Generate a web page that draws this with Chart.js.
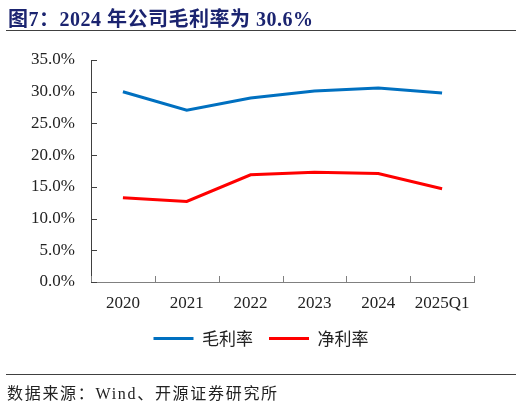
<!DOCTYPE html>
<html>
<head>
<meta charset="utf-8">
<script src="https://cdn.jsdelivr.net/npm/chart.js@4/dist/chart.umd.min.js"></script>
<style>
  body { margin: 0; background: #fff; }
  #wrap { position: relative; width: 522px; height: 405px; overflow: hidden; }
  #title {
    position: absolute; left: 8px; top: 3px; white-space: nowrap;
    font: bold 20px "Liberation Serif", "Noto Sans CJK SC", serif;
    color: #1b2470; letter-spacing: 0.5px;
  }
  .rule { position: absolute; left: 6px; width: 510px; height: 0; border-top: 1.5px solid #404040; }
  #source {
    position: absolute; left: 7px; top: 380px; white-space: nowrap;
    font: 16px "Liberation Serif", "Noto Sans CJK SC", serif;
    color: #222; letter-spacing: 1.7px;
  }
  canvas { position: absolute; left: 0; top: 0; }
</style>
</head>
<body>
<div id="wrap">
  <canvas id="chart" width="522" height="405"></canvas>
  <div id="title">图7：2024 年公司毛利率为 30.6%</div>
  <div class="rule" style="top:30px"></div>
  <div class="rule" style="top:374px"></div>
  <div id="source">数据来源：Wind、开源证券研究所</div>
</div>
<script>
// data
const years = ["2020", "2021", "2022", "2023", "2024", "2025Q1"];
const grossMargin = [30.0, 27.1, 29.0, 30.1, 30.6, 29.8];
const netMargin = [13.3, 12.7, 16.9, 17.3, 17.1, 14.7];
const yMin = 0, yMax = 35, yStep = 5;

Chart.defaults.font.family = '"Liberation Serif", "Times New Roman", serif';
Chart.defaults.font.size = 17;
Chart.defaults.color = "#222";

// tick marks point into the plot, so draw them ourselves
const inwardTicks = {
  id: "inwardTicks",
  afterDraw(chart) {
    const { ctx, scales: { x, y } } = chart;
    ctx.save();
    ctx.lineWidth = 1;
    ctx.strokeStyle = "#404040";
    y.ticks.forEach(t => {
      const py = Math.round(y.getPixelForValue(t.value)) + 0.5;
      ctx.beginPath();
      ctx.moveTo(y.right, py);
      ctx.lineTo(y.right + 6, py);
      ctx.stroke();
    });
    ctx.strokeStyle = "#808080";
    for (let i = 0; i <= years.length; i++) {
      const px = Math.round(x.getPixelForValue(i - 0.5)) + 0.5;
      ctx.beginPath();
      ctx.moveTo(px, x.top);
      ctx.lineTo(px, x.top - 6);
      ctx.stroke();
    }
    ctx.restore();
  }
};

new Chart(document.getElementById("chart"), {
  type: "line",
  data: {
    labels: years,
    datasets: [
      {
        label: "毛利率",
        data: grossMargin,
        borderColor: "#0070c0",
        backgroundColor: "#0070c0",
        borderWidth: 3,
        pointRadius: 0,
        tension: 0
      },
      {
        label: "净利率",
        data: netMargin,
        borderColor: "#ff0000",
        backgroundColor: "#ff0000",
        borderWidth: 3,
        pointRadius: 0,
        tension: 0
      }
    ]
  },
  options: {
    responsive: false,
    animation: false,
    layout: { padding: { top: 60, left: 0, right: 0, bottom: 48 } },
    plugins: {
      tooltip: { enabled: false },
      legend: {
        position: "bottom",
        labels: {
          usePointStyle: true,
          pointStyle: "line",
          pointStyleWidth: 40,
          padding: 16,
          color: "#222",
          font: { family: '"Noto Sans CJK SC", sans-serif', size: 17 }
        }
      }
    },
    scales: {
      x: {
        offset: true,
        grid: { display: false, offset: true },
        border: { display: true, color: "#808080", width: 1 },
        ticks: { padding: 3, maxRotation: 0, color: "#222" },
        afterFit(s) { s.height = 32; }
      },
      y: {
        min: yMin,
        max: yMax,
        grid: { display: false },
        border: { display: true, color: "#404040", width: 1 },
        ticks: {
          stepSize: yStep,
          padding: 8,
          color: "#222",
          callback: v => v.toFixed(1) + "%"
        },
        afterFit(s) { s.width = 91; }
      },
      pad: {
        position: "right",
        grid: { display: false },
        border: { display: false },
        ticks: { display: false },
        afterFit(s) { s.width = 48; }
      }
    }
  },
  plugins: [inwardTicks]
});
</script>
</body>
</html>
